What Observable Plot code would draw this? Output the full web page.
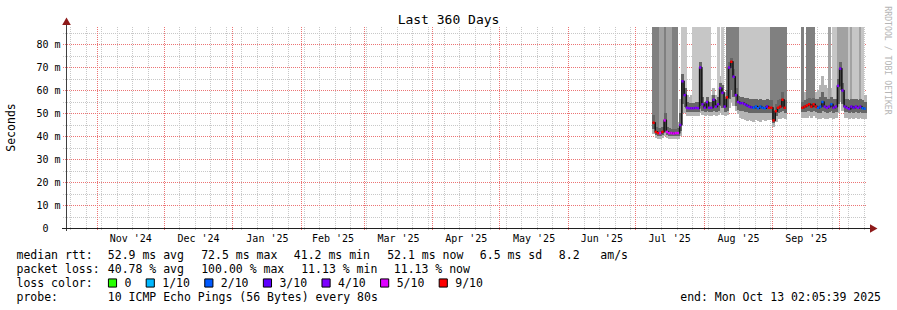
<!DOCTYPE html>
<html><head><meta charset="utf-8">
<script src="https://cdn.jsdelivr.net/npm/d3@7"></script>
<script src="https://cdn.jsdelivr.net/npm/@observablehq/plot@0.6"></script>
<style>
html,body{margin:0;padding:0;background:#fff;}
#chart{width:897px;height:310px;}
svg text{white-space:pre;}
</style></head><body><div id="chart"></div>
<script>
const title = "Last 360 Days";
const yLabel = "Seconds";
const watermark = "RRDTOOL / TOBI OETIKER";
const rangeStart = new Date(Date.UTC(2024, 9, 18, 2, 5, 39));
const rangeEnd = new Date(Date.UTC(2025, 9, 13, 2, 5, 39));
const yMax = 87.4;
const firstDay = new Date(Date.UTC(2025, 6, 9));

const yTicks = [0, 10, 20, 30, 40, 50, 60, 70, 80];
const yTickLabels = ["0  ", "10 m", "20 m", "30 m", "40 m", "50 m", "60 m", "70 m", "80 m"];
const yMinor = [5, 15, 25, 35, 45, 55, 65, 75, 85];
const monthStarts = ["2024-11-01","2024-12-01","2025-01-01","2025-02-01","2025-03-01","2025-04-01","2025-05-01","2025-06-01","2025-07-01","2025-08-01","2025-09-01","2025-10-01"];
const monthLabels = ["Nov '24","Dec '24","Jan '25","Feb '25","Mar '25","Apr '25","May '25","Jun '25","Jul '25","Aug '25","Sep '25"];

// daily median rtt (ms), null = no data
const median = [46,42,41.5,41.5,42,47,42,41.5,41.5,41.3,41.5,41.5,
45,64,58,52.5,52.3,52.3,52.3,52.5,52.3,70,54,52.5,55,52.5,52.5,56,53,54,
61,59,53,57,70,72.5,66,58,55,54.5,54.5,54,53.5,53,52.7,52.5,53,52.3,53,52.5,52.3,53,52.5,52.5,47,51,52.5,53,56,52.5,
null,null,null,null,null,null,null,
52.5,53,53.5,54,53,54,53,52.5,53,55,53,52.5,53,54,52.5,53,62,69.5,60,53,52.5,52,53,52.5,53,52.5,53,52.3,52.1];
// packet loss in tenths
const lossTenths = [9,9,9,5,9,5,5,5,5,5,5,5,
4,4,4,4,4,4,4,4,4,4,4,4,4,4,4,4,4,4,
4,4,4,9,4,9,4,4,4,3,4,4,3,4,3,2,2,2,2,2,2,3,9,9,9,9,9,9,9,9,
null,null,null,null,null,null,null,
9,9,9,9,9,9,9,2,2,2,4,4,4,2,4,4,4,4,4,4,4,4,4,3,4,4,4,2,2];
// smoke: outer low, inner low, inner high, outer high (ms)
const smokeLo2 = [41,39,38.5,38.5,39,40,39,38.5,38.5,38.5,38.5,38.5,
40,50,50,48.5,48.5,48.5,48.5,48.5,48.5,50,49,48.5,49,48.5,48.5,49,48.5,49,
50,49,48.5,49,52,55,53,51,49.5,48,47.5,47,46.5,47,46.5,46,47,46.5,46,47,46.5,47,47,47,44,46,47.5,47.5,48,47.5,
null,null,null,null,null,null,null,
48,48,48,48.5,48,48.5,48,47.5,47.5,48,47.5,47.5,48,48,47.5,48,50,55,51,48,48,47.5,48,47.5,48,47.5,48,47.5,47.5];
const smokeLo1 = [43,40.5,40,40,40.5,42,40.5,40,40,40,40,40,
42,54,52.5,50.5,50.5,50.5,50.5,50.5,50.5,53,51,50.5,51,50.5,50.5,51,50.5,51,
53,52,50.5,51,56,60,57,53,51.5,51,51,50.5,50.5,50,50,50,50,50,50,50,50,50,50,50,45.5,48.5,50,50.5,51,50,
null,null,null,null,null,null,null,
50.5,50.5,51,51,50.5,51,50.5,50,50,51,50.5,50,50.5,51,50,50.5,54,60,54,50.5,50.5,50,50.5,50,50.5,50,50.5,50,50];
const smokeHi1 = [49,44,43.5,43.5,44,50,44,43.5,43,43,43,43.5,
50,67,61,55,54.5,54.5,54.5,55,55,72,57,55,57,55,55,58,55.5,57,
63,62,56,60,72,74,69,61,57.5,57,57,56.5,56.5,56,56,56,56,55.5,56,55.5,55.5,56,55.5,55.5,51,54,55.5,56,59,55.5,
null,null,null,null,null,null,null,
55,55.5,56,56.5,56,56.5,56,56,57,59,57,56,56,57,56,56,65,72,63,56,56,55.5,56,56,56,55.5,56,55.5,55];
const smokeHi2 = [52,47,46,46,47,53,46,46,45.5,45,45,46,
56,72,65,58,57,58,57,58,58,75,60,58,60,58,58,61,58,62,
66,65,59,63,75,77,72,64,61,60,60,60,60,59,59,59,60,59,60,59,59,59,59,59,55,57,58,59,62,58,
null,null,null,null,null,null,null,
59,59,59,60,59,60,59,60,62,66,62,61,60,61,59,60,68,75,66,59,59,59,59,59,59,59,59,58,58];
// off-scale smoke column shade: 0 none, 1 light, 2 mid, 3 dark
const offScale = [3,3,3,2,2,3,2,2,2,3,3,0,
0,1,1,0,0,0,1,1,1,1,1,1,1,1,0,0,0,1,
0,1,0,3,3,3,3,3,3,1,1,1,1,1,1,1,1,1,1,1,1,1,1,3,3,3,3,3,3,3,
null,null,null,null,null,null,null,
3,0,3,3,3,3,0,0,0,0,0,0,2,0,1,1,2,2,2,2,2,1,2,1,1,1,2,1,0];

const lossLegend = ["0","1/10","2/10","3/10","4/10","5/10","9/10"];
const lossLegendTenths = [0,1,2,3,4,5,9];
const lossColors = ["#26ff00","#00b8ff","#0059ff","#5e00ff","#7e00ff","#dd00ff","#ff0000"];
const columnShades = [null, "#c6c6c6", "#a2a2a2", "#808080"];

const statsRtt = ["median rtt:", "52.9 ms avg", "72.5 ms max", "41.2 ms min", "52.1 ms now", "6.5 ms sd", "8.2   am/s"];
const statsRttX = [16, 107.3, 200.7, 293.3, 386.7, 479.3, 558.3];
const statsLoss = ["packet loss:", "40.78 % avg", "100.00 % max", "11.13 % min", "11.13 % now"];
const statsLossX = [16, 107.3, 200.7, 300.7, 393.3];
const probeText = ["probe:", "10 ICMP Echo Pings (56 Bytes) every 80s"];
const endText = "end: Mon Oct 13 02:05:39 2025";

const lossColorOf = t => lossColors[lossLegendTenths.indexOf(t)];
const rows = median.map((m, i) => {
  const date = d3.utcDay.offset(firstDay, i);
  return {date, next: d3.utcDay.offset(date, 1), med: m, loss: lossTenths[i],
    lo2: smokeLo2[i], lo1: smokeLo1[i], hi1: smokeHi1[i], hi2: smokeHi2[i], tall: offScale[i]};
});
const valid = rows.filter(d => d.med != null);

const mStarts = monthStarts.map(s => new Date(s + "T00:00:00Z"));
const months = monthLabels.map((l, i) => ({label: l, x: new Date((+mStarts[i] + +mStarts[i+1]) / 2)}));
const weeks = d3.utcSunday.range(rangeStart, rangeEnd).filter(d => d.getUTCDate() !== 1);

const ML = 66, MT = 27;
const at = (px, py) => ({frameAnchor: "top-left", dx: px - ML, dy: py - MT});
const mono = "DejaVu Sans Mono";
const seam = {insetLeft: 0, insetRight: -0.7, shapeRendering: "crispEdges"};
const grid = {strokeDasharray: "1,1", shapeRendering: "crispEdges"};

const marks = [
  // grid
  Plot.ruleY(yMinor, {y: d => d, stroke: "#c8c8c8", insetLeft: -3, ...grid}),
  Plot.ruleX(weeks, {x: d => d, stroke: "#c8c8c8", insetBottom: -3, ...grid}),
  Plot.ruleY(yTicks.slice(1), {y: d => d, stroke: "#ec7474", insetLeft: -3, ...grid}),
  Plot.ruleX(mStarts, {x: d => d, stroke: "#ec7474", insetBottom: -3, ...grid}),
  // smoke
  Plot.rectY(valid, {x1: "date", x2: "next", y1: "lo2", y2: "hi2", fill: "#b4b4b4", ...seam}),
  Plot.rectY(valid.filter(d => d.tall > 0), {x1: "date", x2: "next", y1: "hi1", y2: () => yMax, fill: d => columnShades[d.tall], ...seam}),
  Plot.rectY(valid, {x1: "date", x2: "next", y1: "lo1", y2: "hi1", fill: "#666666", ...seam}),
  // median
  Plot.line(rows, {x: "date", y: "med", curve: "step-after", stroke: "#161616", strokeWidth: 1.6}),
  Plot.ruleY(valid, {x1: "date", x2: "next", y: "med", stroke: d => lossColorOf(d.loss), strokeWidth: 2.5}),
  // axes
  Plot.ruleX([rangeStart], {x: d => d, stroke: "#404040", insetTop: -5, insetBottom: -3}),
  Plot.ruleY([0], {y: d => d, stroke: "#202020", insetLeft: -4, insetRight: -6}),
  Plot.dot([0], {x: () => rangeStart, y: () => yMax, symbol: "triangle", r: 3.2, fill: "#8e1a1a", stroke: "none", dy: -5}),
  Plot.dot([0], {x: () => rangeEnd, y: () => 0, symbol: "triangle", r: 3.2, rotate: 90, fill: "#8e1a1a", stroke: "none", dx: 6}),
  // tick labels
  Plot.text(yTicks, {x: () => rangeStart, y: d => d, text: (d, i) => yTickLabels[i], textAnchor: "end", dx: -6, fontSize: 10}),
  Plot.text(months, {x: "x", y: () => 0, text: "label", dy: 10, fontSize: 10}),
  // titles
  Plot.text([title], {...at(448, 23.5), text: d => d, textAnchor: "middle", lineAnchor: "bottom", fontSize: 13}),
  Plot.text([yLabel], {...at(11, 127), text: d => d, rotate: -90, textAnchor: "middle", lineAnchor: "middle", fontSize: 11.5}),
  Plot.text([watermark], {...at(887, 60), text: d => d, rotate: 90, textAnchor: "middle", lineAnchor: "middle", fontSize: 8.2, fill: "#b5b5b5"}),
];
// legend rows
statsRtt.forEach((s, i) => marks.push(Plot.text([s], {...at(statsRttX[i], 258.5), text: d => d, textAnchor: "start", lineAnchor: "bottom", fontSize: 11.5})));
statsLoss.forEach((s, i) => marks.push(Plot.text([s], {...at(statsLossX[i], 272.3), text: d => d, textAnchor: "start", lineAnchor: "bottom", fontSize: 11.5})));
marks.push(Plot.text(["loss color:"], {...at(16, 286.3), text: d => d, textAnchor: "start", lineAnchor: "bottom", fontSize: 11.5}));
let lx = 108;
lossLegend.forEach((s, i) => {
  marks.push(Plot.dot([s], {...at(lx + 4, 282.5), symbol: "square", r: 4.6, fill: lossColors[i], stroke: "#000", strokeWidth: 1}));
  marks.push(Plot.text([s], {...at(lx + 16, 286.3), text: d => d, textAnchor: "start", lineAnchor: "bottom", fontSize: 11.5}));
  lx = lx + 16 + s.length * 6.95 + 14.8;
});
marks.push(Plot.text([probeText[0]], {...at(16, 300.3), text: d => d, textAnchor: "start", lineAnchor: "bottom", fontSize: 11.5}));
marks.push(Plot.text([probeText[1]], {...at(107.3, 300.3), text: d => d, textAnchor: "start", lineAnchor: "bottom", fontSize: 11.5}));
marks.push(Plot.text([endText], {...at(880.5, 300.3), text: d => d, textAnchor: "end", lineAnchor: "bottom", fontSize: 11.5}));

const chart = Plot.plot({
  width: 897, height: 310,
  marginLeft: ML, marginRight: 31, marginTop: MT, marginBottom: 82,
  style: {fontFamily: mono, fontSize: "10px", background: "#fff", color: "#000", overflow: "visible"},
  x: {type: "utc", domain: [rangeStart, rangeEnd], axis: null},
  y: {domain: [0, yMax], axis: null},
  color: {type: "identity"},
  marks
});
document.getElementById("chart").appendChild(chart);
</script></body></html>
